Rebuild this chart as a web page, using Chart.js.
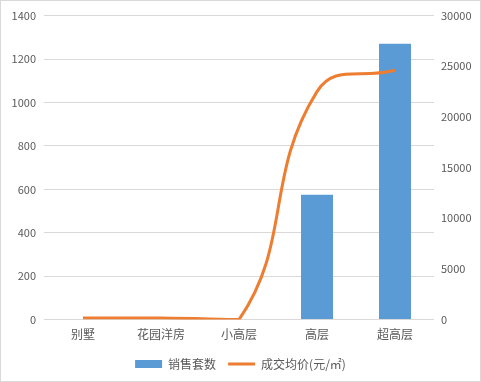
<!DOCTYPE html>
<html lang="zh">
<head>
  <meta charset="UTF-8">
  <title>销售套数与成交均价</title>
  <script src="https://cdn.jsdelivr.net/npm/chart.js@4.4.1/dist/chart.umd.min.js"></script>
  <style>
    html, body { margin: 0; padding: 0; background: #fff; }
    .wrap { position: relative; width: 479px; height: 380px; border: 1px solid #d9d9d9; }
  </style>
</head>
<body>
  <div class="wrap"><canvas id="chart"></canvas></div>
  <script>
    const categories = ['别墅', '花园洋房', '小高层', '高层', '超高层'];
    const salesCount = [0, 0, 0, 575, 1270];
    const avgPrice = [150, 150, 0, 22500, 24600];
    const leftTicks = [0, 200, 400, 600, 800, 1000, 1200, 1400];
    const rightTicks = [0, 5000, 10000, 15000, 20000, 25000, 30000];

    const font = '"Noto Sans CJK SC", "Liberation Sans", sans-serif';
    const grey = '#595959';

    const ctx = document.getElementById('chart').getContext('2d');
    new Chart(ctx, {
      data: {
        labels: categories,
        datasets: [
          {
            type: 'bar',
            label: '销售套数',
            data: salesCount,
            backgroundColor: '#5B9BD5',
            borderWidth: 0,
            yAxisID: 'y',
            categoryPercentage: 1,
            barPercentage: 0.41,
            pointStyle: 'rect',
            order: 2
          },
          {
            type: 'line',
            label: '成交均价(元/㎡)',
            data: avgPrice,
            borderColor: '#ED7D31',
            backgroundColor: '#ED7D31',
            borderWidth: 3,
            tension: 0.45,
            pointRadius: 0,
            yAxisID: 'y1',
            pointStyle: 'line',
            order: 1
          }
        ]
      },
      options: {
        responsive: true,
        maintainAspectRatio: false,
        animation: false,
        layout: { padding: { top: 7, left: 0, right: 0, bottom: 1 } },
        plugins: {
          tooltip: { enabled: false },
          legend: {
            position: 'bottom',
            labels: {
              usePointStyle: true,
              pointStyleWidth: 27,
              boxHeight: 8,
              color: grey,
              font: { family: font, size: 12 },
              padding: 12,
              sort: (a, b) => a.datasetIndex - b.datasetIndex
            }
          }
        },
        scales: {
          x: {
            grid: { display: false },
            border: { display: false },
            afterFit: (axis) => { axis.height += 4; },
            ticks: { color: grey, font: { family: font, size: 12 }, padding: 0 }
          },
          y: {
            position: 'left',
            min: 0,
            max: 1400,
            afterBuildTicks: (axis) => { axis.ticks = leftTicks.map(v => ({ value: v })); },
            afterFit: (axis) => { axis.width = 43; },
            grid: { color: '#d9d9d9', drawTicks: false },
            border: { display: false },
            ticks: { color: grey, font: { family: font, size: 11 }, padding: 8, callback: (v) => String(v) }
          },
          y1: {
            position: 'right',
            min: 0,
            max: 30000,
            afterBuildTicks: (axis) => { axis.ticks = rightTicks.map(v => ({ value: v })); },
            afterFit: (axis) => { axis.width = 46; },
            grid: { display: false, drawTicks: false },
            border: { display: false },
            ticks: { color: grey, font: { family: font, size: 11 }, padding: 7, callback: (v) => String(v) }
          }
        }
      }
    });
  </script>
</body>
</html>
